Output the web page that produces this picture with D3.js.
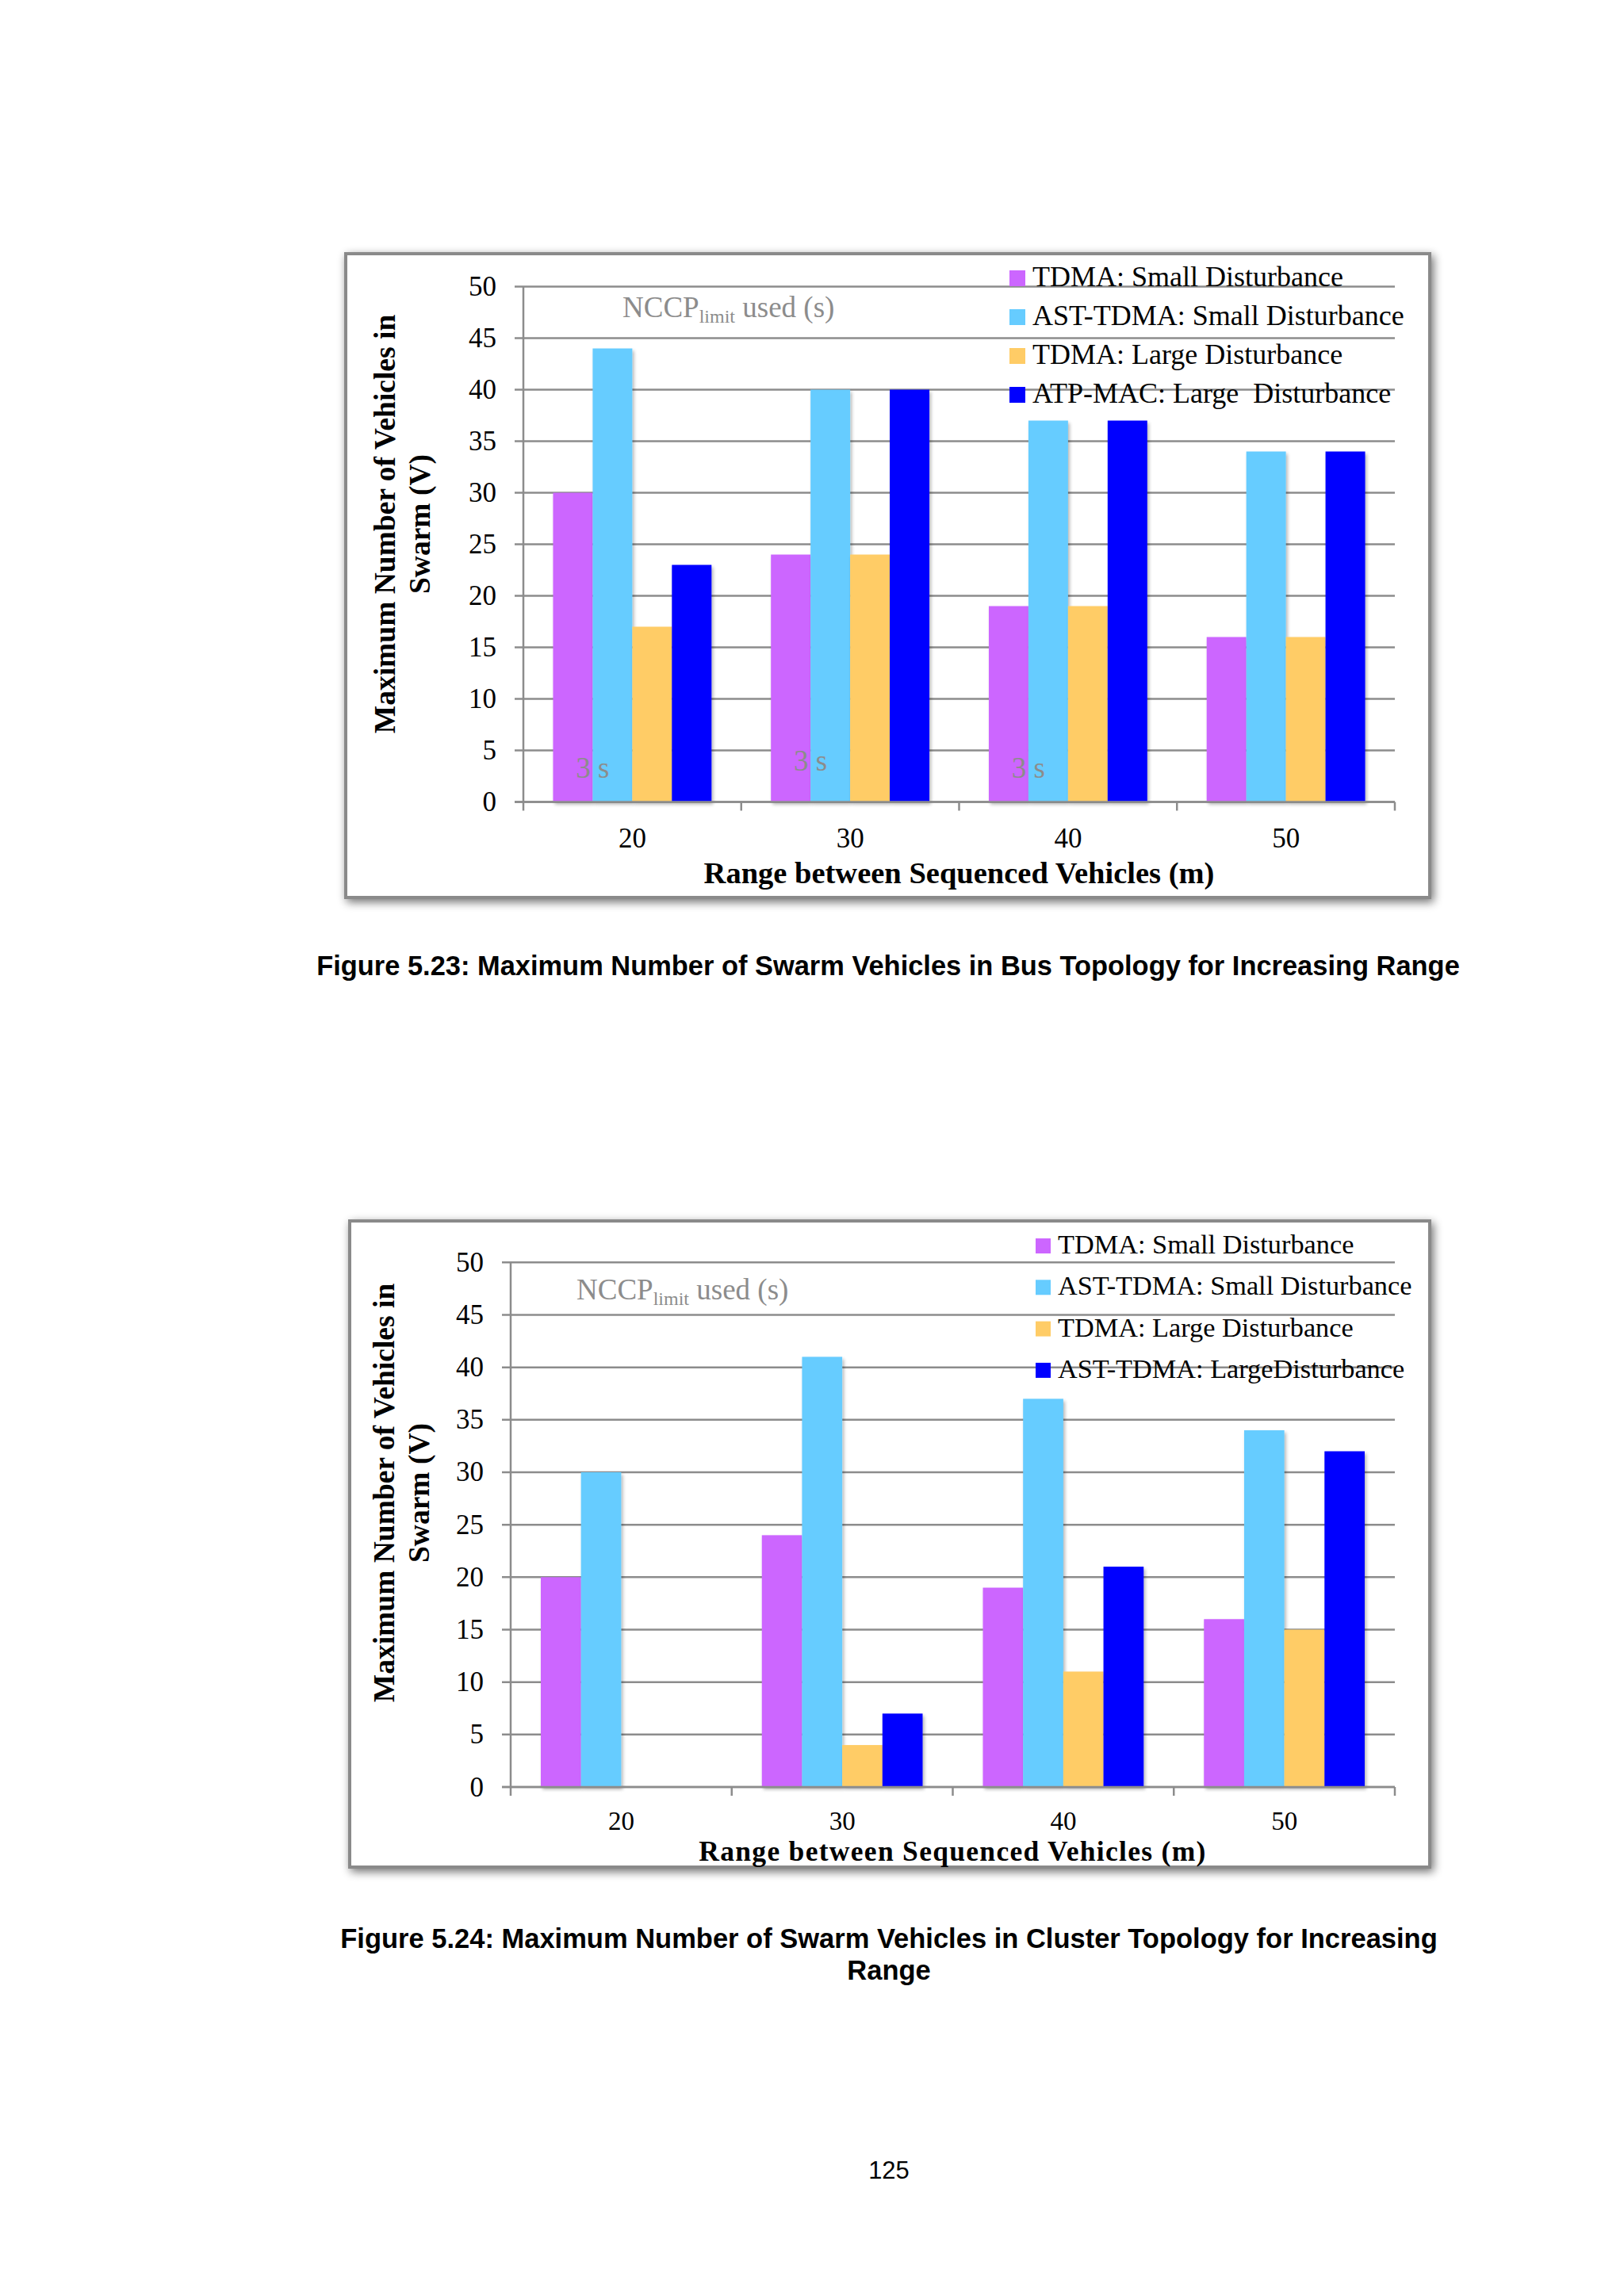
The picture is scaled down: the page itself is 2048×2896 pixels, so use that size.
<!DOCTYPE html>
<html>
<head>
<meta charset="utf-8">
<script src="https://cdn.jsdelivr.net/npm/d3@7"></script>
<style>
  html, body { margin: 0; padding: 0; background: #ffffff; }
  svg { display: block; }
</style>
</head>
<body>
<svg id="page" width="2048" height="2896"></svg>
<script>
// ---------------- DATA ----------------
const categories = ["20", "30", "40", "50"];
const yTickValues = [0, 5, 10, 15, 20, 25, 30, 35, 40, 45, 50];

// Figure 5.23 – Bus topology
const busSeriesNames = [
  "TDMA: Small Disturbance",
  "AST-TDMA: Small Disturbance",
  "TDMA: Large Disturbance",
  "ATP-MAC: Large  Disturbance"
];
const busTdmaSmall    = [30, 24, 19, 16];
const busAstSmall     = [44, 40, 37, 34];
const busTdmaLarge    = [17, 24, 19, 16];
const busAtpLarge     = [23, 40, 37, 34];
const busNccpLabels   = ["3 s", "3 s", "3 s", ""];

// Figure 5.24 – Cluster topology
const clusterSeriesNames = [
  "TDMA: Small Disturbance",
  "AST-TDMA: Small Disturbance",
  "TDMA: Large Disturbance",
  "AST-TDMA: LargeDisturbance"
];
const clusterTdmaSmall = [20, 24, 19, 16];
const clusterAstSmall  = [30, 41, 37, 34];
const clusterTdmaLarge = [0, 4, 11, 15];
const clusterAstLarge  = [0, 7, 21, 32];
const clusterNccpLabels = ["", "", "", ""];

const seriesColors = ["#CC66FF", "#66CCFF", "#FFCC66", "#0000FF"];
const yTitleLines = ["Maximum Number of Vehicles in", "Swarm (V)"];
const xTitle = "Range between Sequenced Vehicles (m)";
const caption1 = ["Figure 5.23: Maximum Number of Swarm Vehicles in Bus Topology for Increasing Range"];
const caption2 = ["Figure 5.24: Maximum Number of Swarm Vehicles in Cluster Topology for Increasing", "Range"];
const pageNumber = "125";

// ---------------- DRAW ----------------
const svg = d3.select("#page");
const SERIF = "'Liberation Serif', 'Times New Roman', serif";
const SANS = "'Liberation Sans', Arial, sans-serif";
const GRID = "#8c8c8c";

const defs = svg.append("defs");
const shadow = defs.append("filter").attr("id", "frameShadow")
  .attr("x", "-5%").attr("y", "-5%").attr("width", "110%").attr("height", "110%");
shadow.append("feGaussianBlur").attr("in", "SourceAlpha").attr("stdDeviation", 6).attr("result", "b");
shadow.append("feOffset").attr("in", "b").attr("dx", 3).attr("dy", 4).attr("result", "o");
shadow.append("feComponentTransfer").attr("in", "o").attr("result", "s")
  .append("feFuncA").attr("type", "linear").attr("slope", 0.55);
const m = shadow.append("feMerge");
m.append("feMergeNode").attr("in", "s");
m.append("feMergeNode").attr("in", "SourceGraphic");

const barShadow = defs.append("filter").attr("id", "barShadow")
  .attr("x", "-10%").attr("y", "-5%").attr("width", "130%").attr("height", "115%");
barShadow.append("feGaussianBlur").attr("in", "SourceAlpha").attr("stdDeviation", 2).attr("result", "b");
barShadow.append("feOffset").attr("in", "b").attr("dx", 2).attr("dy", 3).attr("result", "o");
barShadow.append("feComponentTransfer").attr("in", "o").attr("result", "s")
  .append("feFuncA").attr("type", "linear").attr("slope", 0.3);
const bm = barShadow.append("feMerge");
bm.append("feMergeNode").attr("in", "s");
bm.append("feMergeNode").attr("in", "SourceGraphic");

function drawChart(cfg) {
  const g = svg.append("g");

  // frame
  g.append("rect")
    .attr("x", cfg.frame[0]).attr("y", cfg.frame[1])
    .attr("width", cfg.frame[2] - cfg.frame[0]).attr("height", cfg.frame[3] - cfg.frame[1])
    .attr("fill", "#ffffff").attr("stroke", "#8a8a8a").attr("stroke-width", 4)
    .attr("filter", "url(#frameShadow)");

  const y = d3.scaleLinear().domain([0, 50]).range([cfg.y0, cfg.y50]);
  const x0 = d3.scaleBand().domain(categories).range([cfg.left, cfg.right]).padding(0);
  const bw = x0.bandwidth();
  const x1 = d3.scaleBand().domain(d3.range(4)).range([bw * 0.75 / 5.5, bw - bw * 0.75 / 5.5]).padding(0);

  // gridlines
  g.append("g").selectAll("line").data(yTickValues).join("line")
    .attr("x1", cfg.left - 11).attr("x2", cfg.right)
    .attr("y1", d => y(d)).attr("y2", d => y(d))
    .attr("stroke", GRID).attr("stroke-width", 2.5);

  // y tick labels
  g.append("g").selectAll("text").data(yTickValues).join("text")
    .attr("x", cfg.yLabelRight).attr("y", d => y(d) + 11.5)
    .attr("text-anchor", "end")
    .attr("font-family", SERIF).attr("font-size", 35).attr("fill", "#000")
    .text(d => d);

  // bars
  const series = cfg.series;
  const groups = g.append("g").selectAll("g").data(categories).join("g")
    .attr("transform", c => `translate(${x0(c)},0)`);
  groups.selectAll("rect")
    .data((c, ci) => series.map((s, si) => ({ si, v: s[ci] })))
    .join("rect")
    .attr("x", d => x1(d.si))
    .attr("width", x1.bandwidth())
    .attr("y", d => y(d.v))
    .attr("height", d => y(0) - y(d.v))
    .attr("fill", d => seriesColors[d.si])
    .attr("filter", "url(#barShadow)");

  // y axis line
  g.append("line")
    .attr("x1", cfg.left).attr("x2", cfg.left)
    .attr("y1", y(0)).attr("y2", y(50))
    .attr("stroke", GRID).attr("stroke-width", 2.5);
  // x axis line + ticks
  g.append("line")
    .attr("x1", cfg.left - 11).attr("x2", cfg.right)
    .attr("y1", y(0)).attr("y2", y(0))
    .attr("stroke", GRID).attr("stroke-width", 2.5);
  const tickXs = categories.map(c => x0(c)).concat([cfg.right]);
  g.append("g").selectAll("line").data(tickXs).join("line")
    .attr("x1", d => d).attr("x2", d => d)
    .attr("y1", y(0)).attr("y2", y(0) + 11)
    .attr("stroke", GRID).attr("stroke-width", 2.5);

  // x tick labels
  g.append("g").selectAll("text").data(categories).join("text")
    .attr("x", c => x0(c) + bw / 2).attr("y", cfg.xLabelBaseline)
    .attr("text-anchor", "middle")
    .attr("font-family", SERIF).attr("font-size", cfg.xLabelFont).attr("fill", "#000")
    .text(c => c);

  // NCCP "3 s" annotations, centred on boundary of first two bars
  g.append("g").selectAll("text").data(cfg.nccp).join("text")
    .attr("x", (t, i) => x0(categories[i]) + x1(1))
    .attr("y", (t, i) => y(0) - cfg.nccpOffsets[i])
    .attr("text-anchor", "middle")
    .attr("font-family", SERIF).attr("font-size", 37).attr("fill", "#8c8c8c")
    .text(t => t);

  // NCCP_limit used (s) label
  const nl = g.append("text")
    .attr("x", cfg.nccpTitle[0]).attr("y", cfg.nccpTitle[1])
    .attr("font-family", SERIF).attr("font-size", 37).attr("fill", "#8c8c8c");
  nl.append("tspan").text("NCCP");
  nl.append("tspan").attr("font-size", 24).attr("dy", 7).text("limit");
  nl.append("tspan").attr("dy", -7).text(" used (s)");

  // legend
  const lg = g.append("g").selectAll("g").data(cfg.names).join("g")
    .attr("transform", (d, i) => `translate(${cfg.legend.x},${cfg.legend.y + i * cfg.legend.step})`);
  lg.append("rect")
    .attr("x", 0).attr("y", -cfg.legend.box).attr("width", cfg.legend.box).attr("height", cfg.legend.box)
    .attr("fill", (d, i) => seriesColors[i]);
  lg.append("text")
    .attr("x", cfg.legend.box + 9).attr("y", 0)
    .attr("font-family", SERIF).attr("font-size", cfg.legend.font).attr("fill", "#000")
    .attr("xml:space", "preserve").style("white-space", "pre")
    .text(d => d);

  // y title
  const yt = g.append("text")
    .attr("transform", `translate(${cfg.yTitle[0]},${cfg.yTitle[1]}) rotate(-90)`)
    .attr("text-anchor", "middle")
    .attr("font-family", SERIF).attr("font-weight", "bold").attr("font-size", 37.5).attr("fill", "#000");
  yTitleLines.forEach((l, i) => yt.append("tspan").attr("x", 0).attr("dy", i === 0 ? 0 : 44).text(l));

  // x title
  g.append("text")
    .attr("x", (cfg.left + cfg.right) / 2).attr("y", cfg.xTitleBaseline)
    .attr("text-anchor", "middle")
    .attr("font-family", SERIF).attr("font-weight", "bold").attr("font-size", cfg.xTitleFont)
    .attr("letter-spacing", cfg.xTitleSpacing).attr("fill", "#000")
    .text(xTitle);
}

drawChart({
  frame: [436, 320, 1803, 1132],
  left: 660, right: 1759, y0: 1011.5, y50: 361.5,
  yLabelRight: 626, xLabelBaseline: 1069, xLabelFont: 35,
  xTitleBaseline: 1114, xTitleFont: 38.5, xTitleSpacing: 0,
  series: [busTdmaSmall, busAstSmall, busTdmaLarge, busAtpLarge],
  names: busSeriesNames,
  nccp: busNccpLabels, nccpOffsets: [31, 40, 31, 31],
  nccpTitle: [785, 400],
  legend: { x: 1273, y: 361, step: 49, box: 20, font: 36 },
  yTitle: [498, 661]
});

drawChart({
  frame: [441, 1540, 1803, 2355],
  left: 644, right: 1759, y0: 2254, y50: 1592.3,
  yLabelRight: 610, xLabelBaseline: 2308, xLabelFont: 33,
  xTitleBaseline: 2347, xTitleFont: 35.5, xTitleSpacing: 1.3,
  series: [clusterTdmaSmall, clusterAstSmall, clusterTdmaLarge, clusterAstLarge],
  names: clusterSeriesNames,
  nccp: clusterNccpLabels, nccpOffsets: [0, 0, 0, 0],
  nccpTitle: [727, 1639],
  legend: { x: 1306, y: 1581, step: 52.3, box: 19, font: 34.3 },
  yTitle: [497, 1883]
});

// captions
function caption(lines, x, y0, lh, target) {
  const t = svg.append("text")
    .attr("x", x).attr("y", y0).attr("text-anchor", "middle")
    .attr("font-family", SANS).attr("font-weight", "bold").attr("font-size", 30).attr("fill", "#000");
  lines.forEach((l, i) => t.append("tspan").attr("x", x).attr("y", y0 + i * lh).text(l));
  const w = t.select("tspan").node().getComputedTextLength();
  t.attr("font-size", 30 * target / w);
}
caption(caption1, 1120, 1230, 40, 1442);
caption(caption2, 1121, 2457, 40, 1384);

svg.append("text")
  .attr("x", 1121).attr("y", 2748).attr("text-anchor", "middle")
  .attr("font-family", SANS).attr("font-size", 31).attr("fill", "#000")
  .text(pageNumber);
</script>
</body>
</html>
